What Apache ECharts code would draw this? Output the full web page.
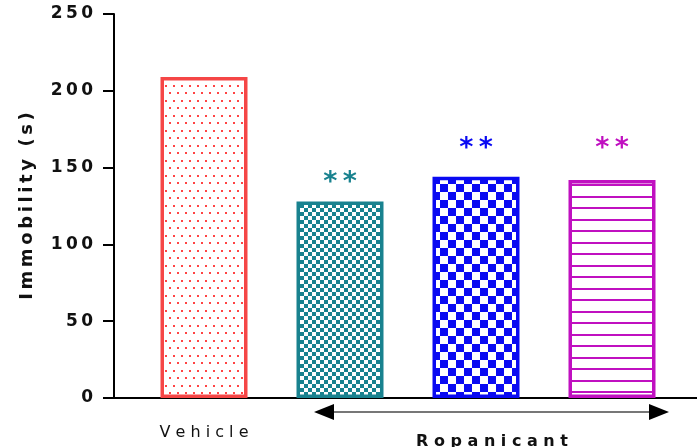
<!DOCTYPE html>
<html>
<head>
<meta charset="utf-8">
<script src="https://cdn.jsdelivr.net/npm/echarts@6/dist/echarts.min.js"></script>
<style>
  html, body { margin: 0; padding: 0; background: #fff; }
  #box { width: 697px; height: 447px; }
</style>
</head>
<body>
<div id="box"></div>
<script>
// data
const categories = ['Vehicle', '', '', ''];
const immobility = [209, 128, 144, 142];
const stars = ['', '**', '**', '**'];
const yTicks = { min: 0, max: 250, interval: 50 };

const colors = ['#f54646', '#19828f', '#0a0af2', '#c010c0'];

// fill patterns drawn on small canvases
function tile(w, h, draw) {
  const c = document.createElement('canvas');
  c.width = w; c.height = h;
  const ctx = c.getContext('2d');
  ctx.fillStyle = '#fff';
  ctx.fillRect(0, 0, w, h);
  draw(ctx);
  return { image: c, repeat: 'repeat' };
}
const dots = tile(8, 15, ctx => {
  ctx.fillStyle = '#f44';
  ctx.fillRect(1, 2, 2, 2);
  ctx.fillRect(5, 10, 2, 2);
});
const smallCheck = tile(8, 8, ctx => {
  ctx.fillStyle = colors[1];
  ctx.fillRect(0, 0, 4, 4);
  ctx.fillRect(4, 4, 4, 4);
});
const bigCheck = tile(16, 16, ctx => {
  ctx.fillStyle = colors[2];
  ctx.fillRect(0, 0, 8, 8);
  ctx.fillRect(8, 8, 8, 8);
});
const stripes = tile(4, 23, ctx => {
  ctx.fillStyle = colors[3];
  ctx.fillRect(0, 0, 4, 2);
  ctx.fillRect(0, 12, 4, 2);
});
const fills = [dots, smallCheck, bigCheck, stripes];
const starGap = [0, 5, 14, 17];

const spaced = (s, sep) => String(s).split('').join(sep);

const chart = echarts.init(document.getElementById('box'));
chart.setOption({
  animation: false,
  grid: { left: 136, right: 17, top: 14, bottom: 49 },
  xAxis: {
    type: 'category',
    data: categories,
    axisLine: { show: false },
    axisTick: { show: false },
    axisLabel: {
      margin: 27,
      color: '#111',
      fontFamily: 'DejaVu Sans',
      fontSize: 16,
      formatter: v => spaced(v, ' ')
    }
  },
  yAxis: {
    type: 'value',
    min: yTicks.min,
    max: yTicks.max,
    interval: yTicks.interval,
    offset: 22,
    splitLine: { show: false },
    axisLine: { show: true, lineStyle: { color: '#000', width: 2 } },
    axisTick: { show: true, length: 11, lineStyle: { color: '#000', width: 2 } },
    axisLabel: {
      margin: 21,
      color: '#111',
      fontFamily: 'DejaVu Sans',
      fontWeight: 'bold',
      fontSize: 17,
      formatter: v => spaced(v, '\u2009')
    },
    name: spaced('Immobility', '\u2009') + '  (\u2009s\u2009)',
    nameLocation: 'middle',
    nameRotate: 90,
    nameGap: 78,
    nameTextStyle: {
      color: '#111',
      fontFamily: 'DejaVu Sans',
      fontWeight: 'bold',
      fontSize: 18
    }
  },
  series: [{
    type: 'bar',
    barWidth: 87,
    data: immobility.map((v, i) => ({
      value: v,
      itemStyle: { color: fills[i], borderColor: colors[i], borderWidth: 3.5 },
      label: {
        show: !!stars[i],
        position: 'top',
        distance: starGap[i],
        formatter: stars[i].split('').join('\u2009'),
        color: colors[i],
        fontFamily: 'DejaVu Sans',
        fontWeight: 'bold',
        fontSize: 27
      }
    }))
  }],
  graphic: [
    { type: 'line', shape: { x1: 113, y1: 398, x2: 697, y2: 398 }, style: { stroke: '#000', lineWidth: 2 } },
    { type: 'line', shape: { x1: 330, y1: 412, x2: 653, y2: 412 }, style: { stroke: '#777', lineWidth: 2 } },
    { type: 'polygon', shape: { points: [[314, 412], [334, 404], [334, 420]] }, style: { fill: '#000' } },
    { type: 'polygon', shape: { points: [[669, 412], [649, 404], [649, 420]] }, style: { fill: '#000' } },
    {
      type: 'text', x: 492, y: 442,
      style: {
        text: spaced('Ropanicant', ' '),
        align: 'center', verticalAlign: 'middle',
        fill: '#111', font: 'bold 16px "DejaVu Sans"'
      }
    }
  ]
});
</script>
</body>
</html>
